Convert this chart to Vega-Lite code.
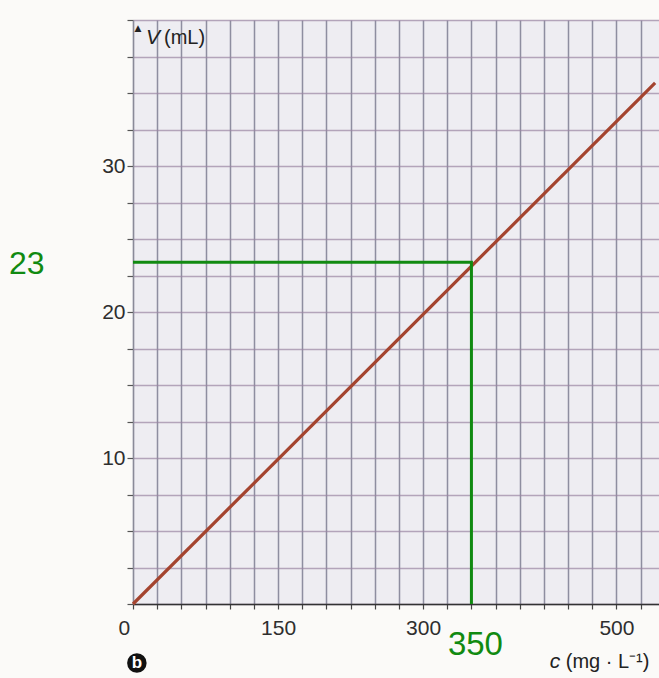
{
  "$schema": "https://vega.github.io/schema/vega-lite/v6.json",
  "width": 526,
  "height": 584,
  "autosize": {"type": "none"},
  "padding": {"left": 133, "top": 20, "right": 0, "bottom": 74},
  "background": "#fbfaf8",
  "config": {
    "view": {"fill": "#eeedf2", "stroke": null},
    "font": "Liberation Sans"
  },
  "encoding": {
    "x": {
      "field": "c", "type": "quantitative",
      "scale": {"domain": [0, 544], "nice": false, "zero": false},
      "axis": {
        "values": [0,25,50,75,100,125,150,175,200,225,250,275,300,325,350,375,400,425,450,475,500,525],
        "grid": true, "gridColor": "#6e6e84", "gridWidth": 1.5, "gridOpacity": 0.75,
        "tickSize": 5, "tickColor": "#444", "tickWidth": 1.2,
        "domainColor": "#333", "domainWidth": 1.6,
        "labelExpr": "indexof([0,150,300,500], datum.value) >= 0 ? datum.label : ''",
        "labelOffset": {"condition": {"test": "datum.value == 0", "value": -15}, "value": 0},
        "labelFont": "Liberation Sans", "labelFontSize": 21, "labelColor": "#2e2e2e",
        "labelPadding": 8, "format": "d", "title": null
      }
    },
    "y": {
      "field": "V", "type": "quantitative",
      "scale": {"domain": [0, 40], "nice": false, "zero": false},
      "axis": {
        "values": [0,2.5,5,7.5,10,12.5,15,17.5,20,22.5,25,27.5,30,32.5,35,37.5,40],
        "grid": true, "gridColor": "#9a84a2", "gridWidth": 1.5, "gridOpacity": 0.7,
        "tickSize": 6, "tickColor": "#555", "tickWidth": 1.2,
        "domainColor": "#8a8a98", "domainWidth": 1.2,
        "labelExpr": "indexof([10,20,30], datum.value) >= 0 ? datum.label : ''",
        "labelFont": "Liberation Sans", "labelFontSize": 21, "labelColor": "#2e2e2e",
        "labelPadding": 2, "format": "d", "title": null
      }
    }
  },
  "layer": [
    {
      "data": {"values": [{"c": 0, "V": 0}, {"c": 540, "V": 35.7}]},
      "mark": {"type": "line", "color": "#a4442f", "strokeWidth": 3.2}
    },
    {
      "data": {"values": [{"c": 0, "V": 23.4, "i": 1}, {"c": 350, "V": 23.4, "i": 2}, {"c": 350, "V": 0, "i": 3}]},
      "mark": {"type": "line", "color": "#118a11", "strokeWidth": 3, "strokeJoin": "miter"},
      "encoding": {"order": {"field": "i", "type": "quantitative"}}
    },
    {
      "data": {"values": [{"c": 0, "V": 23.4, "t": "23"}]},
      "mark": {"type": "text", "align": "left", "baseline": "middle", "dx": -124, "dy": 2, "fontSize": 32, "color": "#118a11", "font": "Liberation Sans"},
      "encoding": {"text": {"field": "t"}}
    },
    {
      "data": {"values": [{"c": 350, "V": 0, "t": "350"}]},
      "mark": {"type": "text", "align": "center", "baseline": "middle", "dx": 4, "dy": 41, "fontSize": 33, "color": "#118a11", "font": "Liberation Sans"},
      "encoding": {"text": {"field": "t"}}
    },
    {
      "data": {"values": [{"c": 0, "V": 40, "t": "V"}]},
      "mark": {"type": "text", "align": "left", "baseline": "middle", "dx": 13, "dy": 18, "fontSize": 21, "fontStyle": "italic", "color": "#222", "font": "Liberation Sans"},
      "encoding": {"text": {"field": "t"}}
    },
    {
      "data": {"values": [{"c": 0, "V": 40, "t": "(mL)"}]},
      "mark": {"type": "text", "align": "left", "baseline": "middle", "dx": 31, "dy": 18, "fontSize": 20, "color": "#222", "font": "Liberation Sans"},
      "encoding": {"text": {"field": "t"}}
    },
    {
      "data": {"values": [{"c": 0, "V": 40, "t": "▲"}]},
      "mark": {"type": "text", "align": "center", "baseline": "middle", "dx": 5, "dy": 8, "fontSize": 9, "color": "#222", "font": "DejaVu Sans"},
      "encoding": {"text": {"field": "t"}}
    },
    {
      "data": {"values": [{"c": 431, "V": 0, "t": "c"}]},
      "mark": {"type": "text", "align": "left", "baseline": "middle", "dx": 0, "dy": 58, "fontSize": 21, "fontStyle": "italic", "color": "#222", "font": "Liberation Sans"},
      "encoding": {"text": {"field": "t"}}
    },
    {
      "data": {"values": [{"c": 431, "V": 0, "t": "(mg · L⁻¹)"}]},
      "mark": {"type": "text", "align": "left", "baseline": "middle", "dx": 16, "dy": 58, "fontSize": 20, "color": "#222", "font": "Liberation Sans"},
      "encoding": {"text": {"field": "t"}}
    },
    {
      "data": {"values": [{"c": 4, "V": 0}]},
      "mark": {"type": "point", "shape": "circle", "filled": true, "color": "#111", "opacity": 1, "size": 380},
      "encoding": {"yOffset": {"value": 59}}
    },
    {
      "data": {"values": [{"c": 4, "V": 0, "t": "b"}]},
      "mark": {"type": "text", "align": "center", "baseline": "middle", "dy": 59, "fontSize": 17, "fontWeight": "bold", "color": "#ffffff", "font": "Liberation Sans"},
      "encoding": {"text": {"field": "t"}}
    }
  ]
}
